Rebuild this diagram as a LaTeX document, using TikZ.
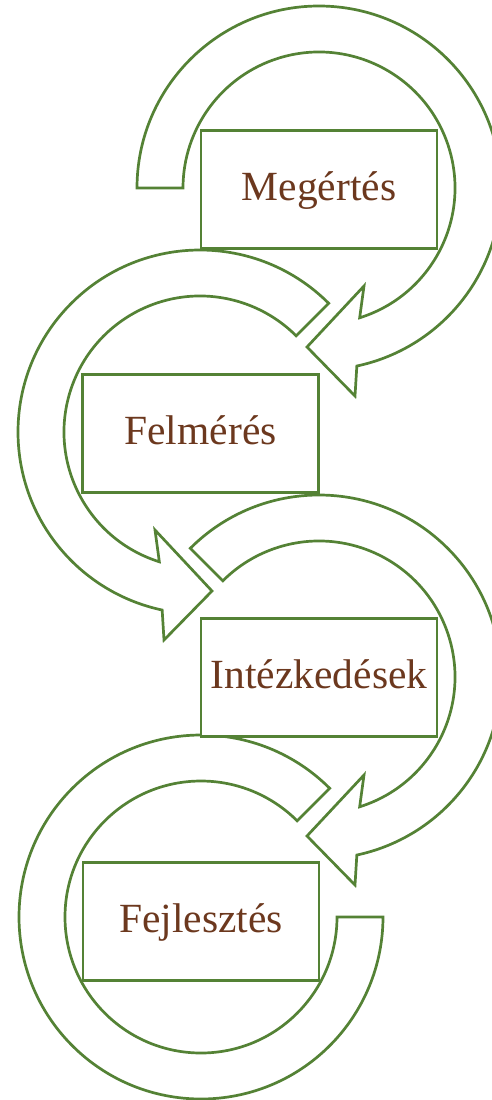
\documentclass[tikz,border=0pt]{standalone}
\usepackage{fontspec}
\setmainfont{Liberation Serif}
\definecolor{leaf}{RGB}{84,130,53}
\definecolor{bark}{RGB}{108,56,30}
\begin{document}
\begin{tikzpicture}[x=1pt,y=-1pt,
  band/.style={draw=leaf, fill=white, line width=2.7pt, line join=miter},
  stage/.style={draw=leaf, fill=white, line width=2.7pt, rectangle,
    minimum width=236pt, minimum height=118pt, inner sep=0pt, text=bark,
    font=\fontsize{41.5}{49}\selectfont, text height=30pt, text depth=9pt}]
\useasboundingbox (0,0) rectangle (492,1100);

% curved arrow around the first stage (clockwise, starts at the left)
\begin{scope}[shift={(319,188)}]
  \draw[band] (180:136) -- (180:182)
    arc[start angle=180, end angle=438, radius=182]
    -- (36,208) -- (-12,159) -- (45,98) -- (432.6:136)
    arc[start angle=432.6, end angle=180, radius=136] -- cycle;
\end{scope}

% curved arrow around the second stage (mirrored)
\begin{scope}[shift={(200,432)}, xscale=-1]
  \draw[band] (225:136) -- (225:182)
    arc[start angle=225, end angle=438, radius=182]
    -- (36,208) -- (-12,159) -- (45,98) -- (432.6:136)
    arc[start angle=432.6, end angle=225, radius=136] -- cycle;
\end{scope}

% curved arrow around the third stage
\begin{scope}[shift={(319,677)}]
  \draw[band] (225:136) -- (225:182)
    arc[start angle=225, end angle=438, radius=182]
    -- (36,208) -- (-12,159) -- (45,98) -- (432.6:136)
    arc[start angle=432.6, end angle=225, radius=136] -- cycle;
\end{scope}

% open ring around the last stage, no arrow head
\begin{scope}[shift={(201,917)}, xscale=-1]
  \draw[band] (225:136) -- (225:182)
    arc[start angle=225, end angle=540, radius=182]
    -- (540:136)
    arc[start angle=540, end angle=225, radius=136] -- cycle;
\end{scope}

% stage boxes
\node[stage] (megertes) at (319,189.5) {Megértés};
\node[stage] (felmeres) at (200.5,433.5) {Felmérés};
\node[stage] (intezkedesek) at (319,677.5) {Intézkedések};
\node[stage] (fejlesztes) at (201,921.5) {Fejlesztés};
\end{tikzpicture}
\end{document}
